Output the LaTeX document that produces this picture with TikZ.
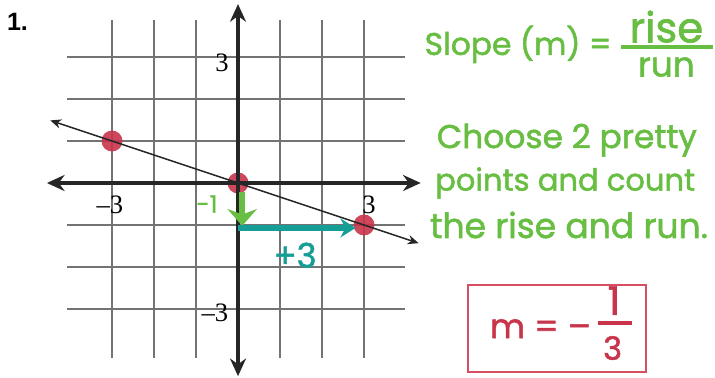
\documentclass[tikz,border=0pt]{standalone}
\usepackage{fontspec}
\usepackage{graphicx}
\newfontfamily\handfont[FakeBold=1.6]{Poppins}
\newfontfamily\numfont{Liberation Sans}
\newfontfamily\tickfont{Liberation Serif}
\usetikzlibrary{arrows.meta}
\definecolor{markergreen}{RGB}{104,190,66}
\definecolor{markerteal}{RGB}{22,158,150}
\definecolor{dotred}{RGB}{200,52,74}
\definecolor{boxred}{RGB}{214,78,98}
\newcommand{\hw}[2]{\resizebox{#1}{!}{\handfont #2}}

\begin{document}
\begin{tikzpicture}[
gridline/.style={draw=black!55, line width=0.9pt},
axis/.style={draw=black!85, line width=2.2pt, {Stealth[length=4.2mm,width=3.8mm]}-{Stealth[length=4.2mm,width=3.8mm]}},
slopeline/.style={draw=black!85, line width=1pt, {Stealth[length=2.6mm,width=2.2mm]}-{Stealth[length=2.6mm,width=2.2mm]}},
point/.style={circle, fill=dotred, fill opacity=0.9, minimum size=0.5cm, inner sep=0pt},
ticklabel/.style={font=\fontsize{18}{18}\selectfont\tickfont, inner sep=1pt},
hand/.style={text=markergreen, inner sep=0pt},
rise/.style={draw=markergreen, line width=3.8pt, -{Stealth[length=4mm,width=7mm]}},
run/.style={draw=markerteal, line width=3.8pt, -{Stealth[length=3.6mm,width=4.5mm]}},
answer/.style={draw=boxred, line width=1.6pt, minimum width=4.23cm, minimum height=2.07cm, inner sep=0pt}
]
\useasboundingbox (-5.667,-4.643) rectangle (11.357,4.357);

\node[font=\fontsize{17}{17}\selectfont\numfont\bfseries, inner sep=0pt] (num) at (-5.25,3.83) {1.};

\foreach \k in {-3,...,3} {
  \draw[gridline] (\k,-4.17) -- (\k,3.88);
  \draw[gridline] (-4.07,\k) -- (3.98,\k);
}

\node[point] (pA) at (-3,1) {};
\node[point] (pO) at (0,0) {};
\node[point] (pB) at (3,-1) {};

\coordinate (xl) at (-4.55,0);
\coordinate (xr) at (4.35,0);
\coordinate (yb) at (0,-4.6);
\coordinate (yt) at (0,4.26);
\draw[axis] (xl) -- (xr);
\draw[axis] (yb) -- (yt);

\coordinate (ll) at (-4.47,1.49);
\coordinate (lr) at (4.3,-1.433);
\draw[slopeline] (ll) -- (lr);

\node[ticklabel] (ty3) at (-0.38,2.86) {3};
\node[ticklabel] (tym3) at (-0.55,-3.1) {\textendash3};
\node[ticklabel] (txm3) at (-3.05,-0.52) {\textendash3};
\node[ticklabel] (tx3) at (3.12,-0.52) {3};

\coordinate (riseTop) at (0.1,-0.22);
\coordinate (riseEnd) at (0.1,-1.02);
\draw[rise] (riseTop) -- (riseEnd);
\node[hand] (riselbl) at (-0.74,-0.5) {\hw{0.5cm}{-1}};

\coordinate (runStart) at (0,-1.07);
\coordinate (runEnd) at (2.8,-1.07);
\draw[run] (runStart) -- (runEnd);
\node[hand, text=markerteal] (runlbl) at (1.36,-1.72) {\hw{1.02cm}{+3}};

\node[hand] (slope) at (6.67,3.3) {\hw{4.45cm}{Slope (m) =}};
\node[hand] (risew) at (10.2,3.72) {\hw{1.75cm}{rise}};
\node[hand] (runw) at (10.2,2.76) {\hw{1.35cm}{run}};
\coordinate (fbl) at (9.12,3.24);
\coordinate (fbr) at (11.3,3.24);
\draw[markergreen, line width=3pt] (fbl) -- (fbr);

\node[hand] (line1) at (7.83,1.02) {\hw{6.19cm}{Choose 2 pretty}};
\node[hand] (line2) at (7.79,0) {\hw{6.19cm}{points and count}};
\node[hand] (line3) at (7.88,-1.0) {\hw{6.62cm}{the rise and run.}};

\node[answer] (box) at (7.595,-3.465) {};
\node[hand, text=dotred] (mlbl) at (7.2,-3.47) {\hw{2.4cm}{m = \textendash}};
\node[hand, text=dotred] (one) at (8.95,-2.8) {\hw{0.3cm}{1}};
\node[hand, text=dotred] (three) at (8.92,-3.93) {\hw{0.45cm}{3}};
\coordinate (abl) at (8.57,-3.33);
\coordinate (abr) at (9.38,-3.33);
\draw[dotred, line width=2.4pt] (abl) -- (abr);
\end{tikzpicture}
\end{document}
